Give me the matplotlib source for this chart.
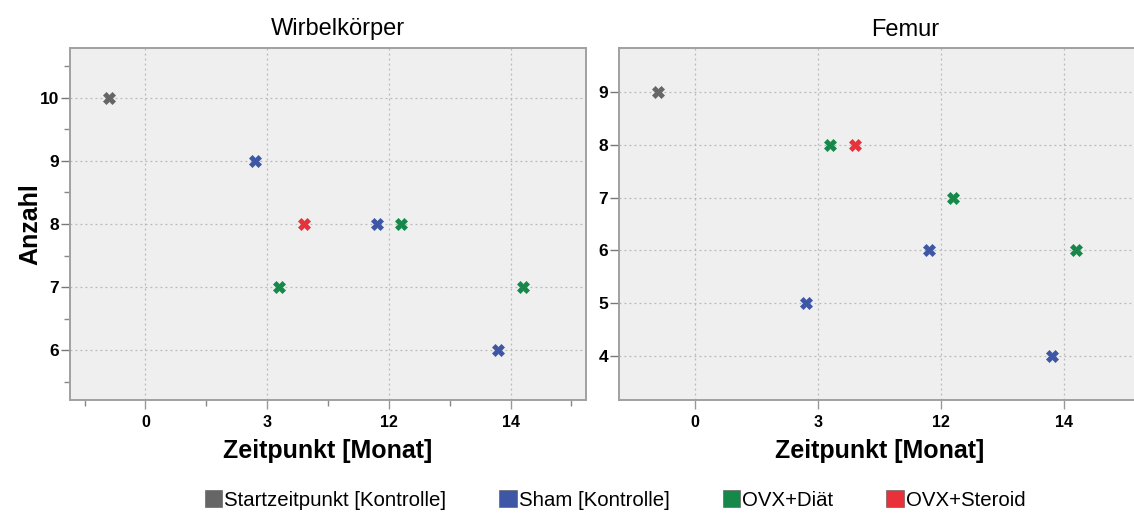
import matplotlib
matplotlib.use("Agg")
import matplotlib.pyplot as plt
from matplotlib.patches import Patch
import numpy as np

plt.rcParams['font.family'] = ['Liberation Sans', 'DejaVu Sans']

# Time points (categorical x axis); the start point sits left of "0"
zeitpunkte = ["Start", "0", "3", "12", "14"]
tick_labels = ["0", "3", "12", "14"]

gruppen = ["Startzeitpunkt [Kontrolle]", "Sham [Kontrolle]", "OVX+Diät", "OVX+Steroid"]
farben = ["#666666", "#3d57a6", "#16894a", "#e8313a"]
versatz = [-0.3, -0.1, 0.1, 0.3]

# Counts per group at each time point ("Start","0","3","12","14"); None = not measured
wirbel = {
    "Startzeitpunkt [Kontrolle]": [None, 10, None, None, None],
    "Sham [Kontrolle]":           [None, None, 9, 8, 6],
    "OVX+Diät":                   [None, None, 7, 8, 7],
    "OVX+Steroid":                [None, None, 8, None, None],
}
femur = {
    "Startzeitpunkt [Kontrolle]": [None, 9, None, None, None],
    "Sham [Kontrolle]":           [None, None, 5, 6, 4],
    "OVX+Diät":                   [None, None, 8, 7, 6],
    "OVX+Steroid":                [None, None, 8, None, None],
}

W, H = 1134, 516
fig = plt.figure(figsize=(W / 100, H / 100), dpi=100)
fig.patch.set_facecolor("white")


def px_axes(x0, y0, x1, y1):
    return fig.add_axes([x0 / W, 1 - y1 / H, (x1 - x0) / W, (y1 - y0) / H])


ax1 = px_axes(70, 48, 586, 400)
ax2 = px_axes(619, 48, 1140, 400)

# Categorical positions: category "0" is index 0, the start point is dodged left of it
kat_pos = np.arange(len(zeitpunkte)) - 1.0


def zeichne(ax, daten, titel, titel_x, ylim, yticks, minor):
    ax.set_facecolor("#efefef")
    for g, c, dx in zip(gruppen, farben, versatz):
        werte = daten[g]
        xs, ys = [], []
        for k, v in enumerate(werte):
            if v is None:
                continue
            basis = kat_pos[k] if k > 0 else kat_pos[1]
            xs.append(basis + dx)
            ys.append(v)
        ax.plot(xs, ys, linestyle="none", marker="X", markersize=8.5,
                color=c, markeredgecolor=c, markeredgewidth=0.5, zorder=3)
    ax.set_xlim(-0.62, 3.62)
    ax.set_ylim(*ylim)
    ax.set_xticks(range(len(tick_labels)))
    ax.set_xticklabels(tick_labels, fontsize=11.5, fontweight="bold")
    ax.set_yticks(yticks)
    ax.set_yticklabels([str(v) for v in yticks], fontsize=12.5, fontweight="bold")
    if minor:
        ax.set_xticks(np.arange(-0.5, 4.0, 1.0), minor=True)
        ax.set_yticks(np.arange(yticks[0] - 0.5, yticks[-1] + 1.0, 1.0), minor=True)
        ax.tick_params(which="minor", length=4, width=1, color="#888888")
    ax.tick_params(axis="y", which="major", length=6.5, width=1, color="#777777", pad=1.5)
    ax.tick_params(axis="x", which="major", length=6.5, width=1, color="#999999", pad=4)
    ax.grid(True, which="major", linestyle=(0, (1.5, 2.5)), color="#b8b8b8", linewidth=0.9)
    ax.set_axisbelow(True)
    for s in ["left", "bottom", "top", "right"]:
        ax.spines[s].set_color("#a0a0a0")
        ax.spines[s].set_linewidth(1.4)
    ax.set_title(titel, fontsize=17, pad=9, x=titel_x)
    ax.set_xlabel("Zeitpunkt [Monat]", fontsize=18, fontweight="bold", labelpad=7)


zeichne(ax1, wirbel, "Wirbelkörper", (338 - 70) / 516, (5.21, 10.79), [6, 7, 8, 9, 10], True)
zeichne(ax2, femur, "Femur", (905 - 619) / 521, (3.17, 9.83), [4, 5, 6, 7, 8, 9], False)
ax1.set_ylabel("Anzahl", fontsize=18, fontweight="bold")
ax1.yaxis.set_label_coords(-(70 - 42) / 516, 0.5)

handles = [Patch(facecolor=c, edgecolor="#555555", linewidth=0.4) for c in farben]
fig.legend(handles, gruppen, loc="center", bbox_to_anchor=(615 / W, 1 - 500 / H),
           ncol=4, frameon=False, fontsize=14.7, handlelength=0.85, handleheight=0.85,
           handletextpad=0.1, columnspacing=2.6)

fig.savefig("out.png", dpi=100)
